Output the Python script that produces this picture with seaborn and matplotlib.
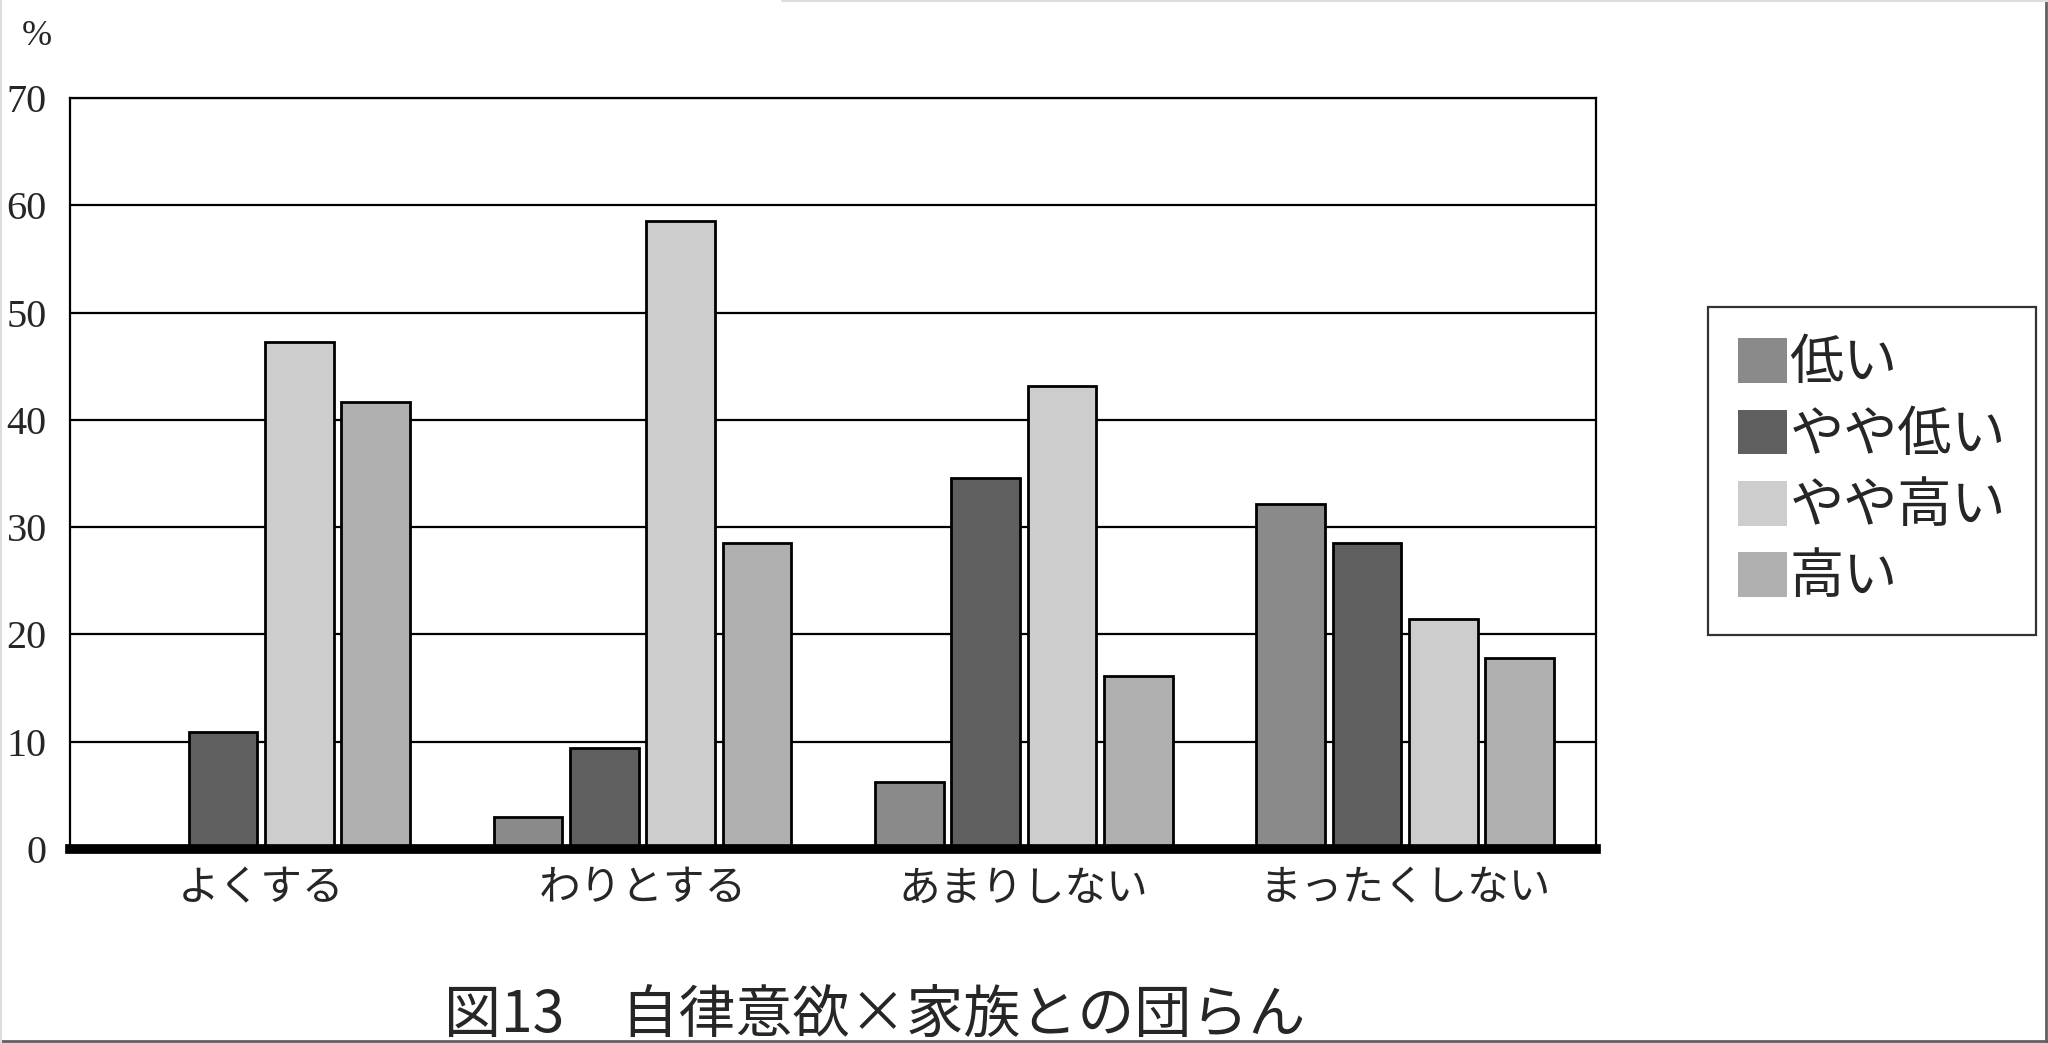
import matplotlib
matplotlib.use('Agg')
import matplotlib.pyplot as plt
from matplotlib.lines import Line2D
import seaborn as sns
import pandas as pd

# データ（図13 自律意欲×家族との団らん）
categories = ['よくする', 'わりとする', 'あまりしない', 'まったくしない']
levels = ['低い', 'やや低い', 'やや高い', '高い']
low = [0.0, 3.0, 6.2, 32.2]
mid_low = [10.9, 9.4, 34.6, 28.5]
mid_high = [47.3, 58.5, 43.2, 21.4]
high = [41.7, 28.5, 16.1, 17.8]
yticks = [0, 10, 20, 30, 40, 50, 60, 70]
colors = ['#8a8a8a', '#5f5f5f', '#cdcdcd', '#afafaf']

df = pd.DataFrame({
    '団らん': categories * 4,
    '自律意欲': [lv for lv in levels for _ in categories],
    '割合': low + mid_low + mid_high + high,
})

sns.set_style('white')
plt.rcParams['font.family'] = ['Noto Sans CJK JP', 'DejaVu Sans']

fig = plt.figure(figsize=(20.48, 10.43), dpi=100)
ax = fig.add_axes([0.0344, 0.186, 0.7448, 0.720])

sns.barplot(data=df, x='団らん', y='割合', hue='自律意欲',
            order=categories, hue_order=levels, palette=colors,
            saturation=1, width=0.8, gap=0.1,
            edgecolor='black', linewidth=2, ax=ax)

ax.set_xlim(-0.5, 3.5)
ax.set_ylim(0, 70)
ax.set_xlabel('')
ax.set_ylabel('')

# 目盛りと罫線
ax.set_axisbelow(True)
ax.yaxis.grid(True, color='black', linewidth=1.6)
ax.set_yticks(yticks)
ax.tick_params(axis='y', length=0, pad=17, labelsize=29)
for lab in ax.get_yticklabels():
    lab.set_family(['Liberation Serif'])
ax.tick_params(axis='x', which='major', length=0, pad=14, labelsize=30)
ax.set_xticks([-0.5, 0.5, 1.5, 2.5], minor=True)
ax.tick_params(axis='x', which='minor', direction='in', length=13,
               width=1.6, color='black')

for side in ['top', 'right', 'left']:
    ax.spines[side].set_color('black')
    ax.spines[side].set_linewidth(1.6)
ax.spines['bottom'].set_color('black')
ax.spines['bottom'].set_linewidth(7)

# 凡例
leg = ax.legend(loc='upper left', bbox_to_anchor=(0.834, 0.706),
                bbox_transform=fig.transFigure, frameon=True, fancybox=False,
                edgecolor='black', fontsize=39, handlelength=0.9,
                handleheight=0.9, handletextpad=0.05, labelspacing=0.3,
                borderpad=0.55, borderaxespad=0)
leg.get_frame().set_linewidth(1.6)
for p in leg.get_patches():
    p.set_edgecolor('none')

fig.text(0.018, 0.965, '%', family=['Liberation Serif'], fontsize=26,
         ha='center', va='center')
fig.text(0.427, 0.026, '図13\u3000自律意欲×家族との団らん', fontsize=41,
         ha='center', va='center')

# 外枠
fig.add_artist(Line2D([0.999, 0.999], [0, 1], color='#606060', lw=2))
fig.add_artist(Line2D([0, 1], [0.002, 0.002], color='#606060', lw=2))
fig.add_artist(Line2D([0.0005, 0.0005], [0, 1], color='#dddddd', lw=1.5))
fig.add_artist(Line2D([0.382, 1], [0.999, 0.999], color='#dddddd', lw=1.5))

# 左端の太い目盛り
fig.canvas.draw()
ax.xaxis.get_minor_ticks()[0].tick1line.set_markeredgewidth(7)

fig.savefig('out.png', dpi=100, facecolor='white')
